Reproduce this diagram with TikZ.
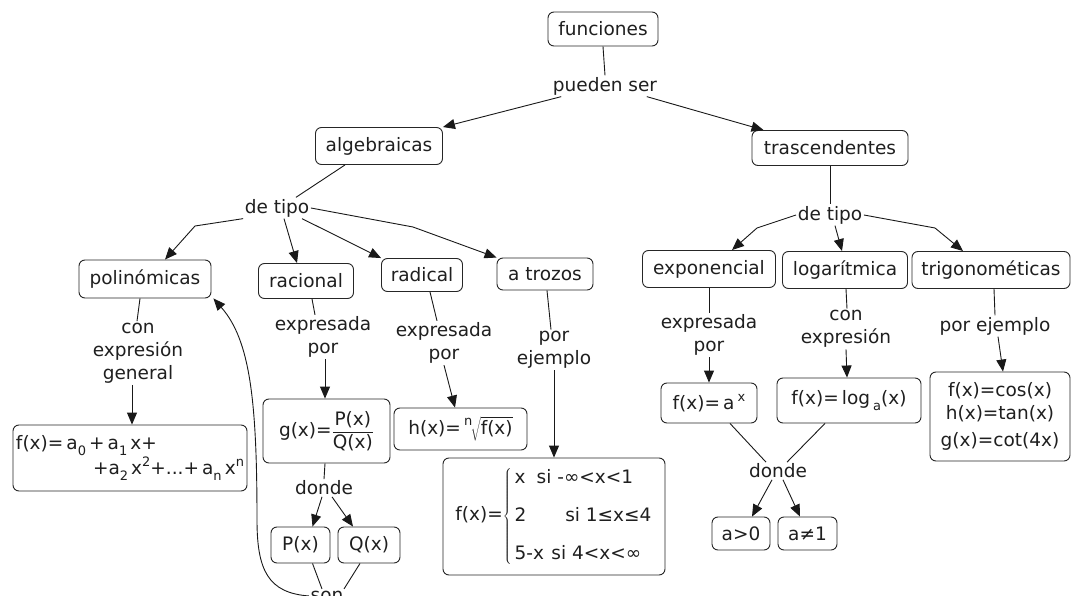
\documentclass[tikz,border=0pt]{standalone}
\usepackage{fontspec}
\setmainfont{DejaVu Sans}
\usetikzlibrary{arrows.meta}
% small lowered / raised indices set in the text font
\newcommand\mysub[1]{\raisebox{-0.6ex}{\fontsize{13}{13}\selectfont #1}}
\newcommand\mysup[1]{\raisebox{0.85ex}{\fontsize{13}{13}\selectfont #1}}
\tikzset{
  box/.style={draw=black!85, rounded corners=6pt, line width=0.9pt, inner sep=0pt, align=center},
  lbl/.style={inner sep=1.5pt, align=center},
  ln/.style={draw=black!90, line width=0.9pt},
  arr/.style={ln, -{Triangle[length=12pt,width=10pt]}}
}
\begin{document}
\begin{tikzpicture}[x=1pt, y=-1pt, font=\fontsize{18.5}{23}\selectfont, text=black!88]
\fill[white] (0,0) rectangle (1071,596);
\useasboundingbox (0,0) rectangle (1071,596);

% ---- concepts ----
\node[box, minimum width=110, minimum height=34] (fun) at (603,29) {funciones};
\node[box, minimum width=127, minimum height=37] (alg) at (379,146) {algebraicas};
\node[box, minimum width=156, minimum height=35] (tra) at (830,148) {trascendentes};

\node[box, minimum width=132, minimum height=38] (pol) at (145,279) {polinómicas};
\node[box, minimum width=95, minimum height=35] (rac) at (306,281) {racional};
\node[box, minimum width=81, minimum height=33] (rad) at (422,275) {radical};
\node[box, minimum width=96, minimum height=32] (tro) at (545,274) {a trozos};
\node[box, minimum width=133, minimum height=37] (expo) at (709,269) {exponencial};
\node[box, minimum width=125, minimum height=37] (loga) at (845,270) {logarítmica};
\node[box, minimum width=158, minimum height=37] (tri) at (991,270) {trigonométicas};

\node[box, minimum width=234, minimum height=66, text width=228, align=left] (polyb) at (130,458)
  {f(x)=\,a\mysub{0}\,+\,a\mysub{1}\,x+\\
   \mbox{}\hfill+a\mysub{2}\,x\mysup{2}+...+\,a\mysub{n}\,x\mysup{n}};
\node[box, minimum width=127, minimum height=64] (gb) at (326.5,431)
  {g(x)=$\displaystyle\frac{\hbox{P(x)}}{\hbox{Q(x)}}$};
\node[box, minimum width=133, minimum height=42] (hb) at (460.5,429)
  {h(x)=\,\mysup{n}\kern-1.5pt$\sqrt{\hbox{f(x)}\vphantom{\big(}}$};
\node[box, minimum width=222, minimum height=117] (pw) at (554,516.5)
  {f(x)=$\left\{\begin{tabular}{@{\hspace{3pt}}l@{}}
    x\hspace{0.6em}si -∞<x<1\\[15pt]
    2\hspace{2.1em}si 1≤x≤4\\[15pt]
    5-x\hspace{0.4em}si 4<x<∞
  \end{tabular}\right.$};
\node[box, minimum width=59, minimum height=36] (pn) at (300.5,545) {P(x)};
\node[box, minimum width=62, minimum height=36] (qn) at (369,545) {Q(x)};

\node[box, minimum width=96, minimum height=40] (axb) at (709,403) {f(x)=\,a\,\mysup{x}};
\node[box, minimum width=144, minimum height=45] (lgb) at (849,400.5) {f(x)=\,log\,\mysub{a}(x)};
\node[box, minimum width=140, minimum height=89] (trb) at (1000,416.5)
  {f(x)=cos(x)\\h(x)=tan(x)\\[4pt]g(x)=cot(4x)};
\node[box, minimum width=58, minimum height=33] (agt) at (741,533.5) {a>0};
\node[box, minimum width=59, minimum height=33] (ane) at (807.5,533.5) {a≠1};

% ---- linking phrases ----
\node[lbl] (pue) at (605,86) {pueden ser};
\node[lbl] (dtl) at (277,208) {de tipo};
\node[lbl] (dtr) at (830,215) {de tipo};
\node[lbl] (ceg) at (138,353) {con\\expresión\\general};
\node[lbl] (rexp) at (323,337) {expresada\\por};
\node[lbl] (dexp) at (444,343) {expresada\\por};
\node[lbl] (pej) at (554,350) {por\\ejemplo};
\node[lbl] (eexp) at (709,335) {expresada\\por};
\node[lbl] (lcon) at (846,329) {con\\expresión};
\node[lbl] (tpe) at (995,326) {por ejemplo};
\node[lbl] (dnl) at (324,488) {donde};
\node[lbl] (dnr) at (778,471) {donde};
\node[lbl, anchor=base] (son) at (327,601) {son};

% ---- connectors ----
\draw[ln] (fun.south) -- (pue.north);
\draw[arr] ([xshift=10]pue.south west) -- (alg.north east);
\draw[arr] ([xshift=-12]pue.south east) -- ([xshift=12]tra.north west);

\draw[ln] ([xshift=-34]alg.south) -- ([xshift=-15]dtl.north east);
\draw[arr] (dtl.south west) -- (195,226) -- ([xshift=20]pol.north);
\draw[arr] ([xshift=7]dtl.south) -- ([xshift=-9]rac.north);
\draw[arr] ([xshift=25]dtl.south) -- (rad.north west);
\draw[arr] (dtl.east) -- (413,227) -- (tro.north west);

\draw[ln] (tra.south) -- (dtr.north);
\draw[arr] (dtr.west) -- (757,228) -- ([xshift=23]expo.north);
\draw[arr] ([xshift=5]dtr.south) -- ([xshift=-3]loga.north);
\draw[arr] (dtr.east) -- (935,228) -- ([xshift=-28]tri.north);

\draw[ln] ([xshift=-5]pol.south) -- ([xshift=-1]ceg.north);
\draw[arr] ([xshift=-6]ceg.south) -- ([xshift=2]polyb.north);

\draw[ln] ([xshift=6]rac.south) -- ([xshift=-8]rexp.north);
\draw[arr] ([xshift=2]rexp.south) -- ([xshift=-1.5]gb.north);
\draw[ln] ([xshift=-1.5]gb.south) -- (dnl.north);
\draw[arr] ([xshift=-2]dnl.south) -- ([xshift=12]pn.north);
\draw[arr] ([xshift=8]dnl.south) -- ([xshift=-16]qn.north);
\draw[ln] ([xshift=12]pn.south) -- ([xshift=-5]son.north);
\draw[ln] ([xshift=-9]qn.south) -- ([xshift=17]son.north);
\draw[arr] (son.west) .. controls (268,593) and (257,570) .. (257,520)
  .. controls (257,400) and (250,340) .. ([xshift=2]pol.south east);

\draw[ln] ([xshift=8]rad.south) -- ([xshift=-7]dexp.north);
\draw[arr] (dexp.south) -- ([xshift=-5.5]hb.north);

\draw[ln] ([xshift=2]tro.south) -- ([xshift=-3]pej.north);
\draw[arr] (pej.south) -- (pw.north);

\draw[ln] (expo.south) -- (eexp.north);
\draw[arr] (eexp.south) -- (axb.north);
\draw[ln] ([xshift=1]loga.south) -- ([xshift=1]lcon.north);
\draw[arr] (lcon.south) -- ([xshift=-2]lgb.north);
\draw[ln] ([xshift=3]tri.south) -- (tpe.north);
\draw[arr] ([xshift=3]tpe.south) -- ([xshift=3]trb.north);

\draw[ln] ([xshift=21]axb.south) -- ([xshift=-12]dnr.north);
\draw[ln] ([xshift=-24]lgb.south) -- ([xshift=9]dnr.north);
\draw[arr] ([xshift=-6]dnr.south) -- ([xshift=11]agt.north);
\draw[arr] ([xshift=5]dnr.south) -- ([xshift=-7.5]ane.north);
\end{tikzpicture}
\end{document}
